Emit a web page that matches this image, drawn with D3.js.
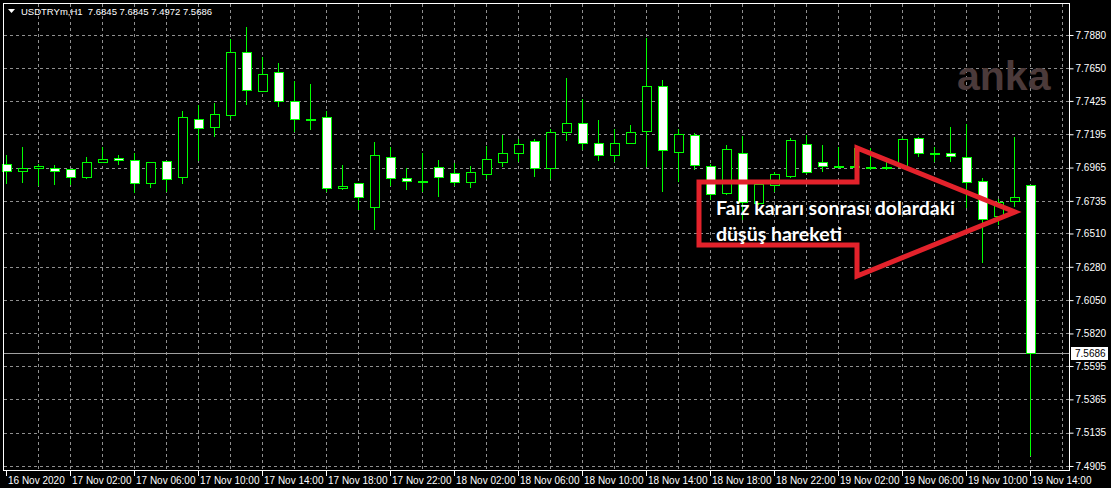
<!DOCTYPE html>
<html>
<head>
<meta charset="utf-8">
<script src="https://cdn.jsdelivr.net/npm/d3@7"></script>
<style>
  html, body { margin: 0; padding: 0; background: #000; }
  svg { display: block; }
  .axis text { font-family: "Liberation Sans", Arial, sans-serif; font-size: 10px; fill: #fff; }
  .axis line { stroke: #fff; }
</style>
</head>
<body>
<svg id="chart" width="1111" height="488"></svg>
<script>
//////////////////
// Data
//////////////////

var symbol = "USDTRYm,H1";
var firstBar = "2020-11-16T22:00:00Z";

// hourly OHLC, 16 Nov 22:00 -> 19 Nov 14:00
var opens = [
  7.6990, 7.6943, 7.6960, 7.6960, 7.6955, 7.6898, 7.7005, 7.7033, 7.7015, 7.6856,
  7.7008, 7.6902, 7.7302, 7.7243, 7.7330, 7.7761, 7.7496, 7.7623, 7.7422, 7.7298,
  7.7316, 7.6822, 7.6861, 7.6691, 7.7040, 7.6891, 7.6874, 7.6967, 7.6925, 7.6867,
  7.6919, 7.7005, 7.7063, 7.7150, 7.6960, 7.7208, 7.7275, 7.7137, 7.7050, 7.7137,
  7.7215, 7.7526, 7.7070, 7.7188, 7.6978, 7.6787, 7.7063, 7.6718, 7.6845, 7.6909,
  7.7126, 7.7005, 7.6978, 7.6978, 7.6971, 7.6971, 7.6971, 7.7167, 7.7068, 7.7068,
  7.7040, 7.6872, 7.6631, 7.6734, 7.6845
];
var highs = [
  7.7052, 7.7109, 7.6990, 7.6983, 7.6955, 7.7040, 7.7109, 7.7052, 7.7063, 7.7001,
  7.7008, 7.7357, 7.7395, 7.7413, 7.7852, 7.7937, 7.7726, 7.7685, 7.7562, 7.7542,
  7.7355, 7.6981, 7.6861, 7.7139, 7.7109, 7.6960, 7.7063, 7.7017, 7.6994, 7.6978,
  7.7114, 7.7190, 7.7162, 7.7162, 7.7231, 7.7581, 7.7436, 7.7293, 7.7231, 7.7259,
  7.7857, 7.7569, 7.7231, 7.7201, 7.6990, 7.7121, 7.7183, 7.6852, 7.6936, 7.7167,
  7.7190, 7.7121, 7.7105, 7.7098, 7.7098, 7.7005, 7.7169, 7.7178, 7.7109, 7.7247,
  7.7266, 7.6891, 7.6748, 7.7174, 7.6845
];
var lows = [
  7.6852, 7.6861, 7.6840, 7.6845, 7.6845, 7.6884, 7.6997, 7.6981, 7.6791, 7.6826,
  7.6798, 7.6849, 7.7010, 7.7178, 7.7300, 7.7397, 7.7496, 7.7385, 7.7212, 7.7224,
  7.6798, 7.6810, 7.6672, 7.6534, 7.6840, 7.6810, 7.6798, 7.6764, 7.6840, 7.6822,
  7.6884, 7.6971, 7.7005, 7.6898, 7.6884, 7.7150, 7.7086, 7.7012, 7.7005, 7.7137,
  7.6967, 7.6798, 7.6867, 7.6948, 7.6741, 7.6776, 7.6603, 7.6707, 7.6798, 7.6893,
  7.6921, 7.6932, 7.6969, 7.6962, 7.6948, 7.6948, 7.6969, 7.7040, 7.7005, 7.7005,
  7.6684, 7.6308, 7.6569, 7.6695, 7.4972
];
var closes = [
  7.6943, 7.6960, 7.6976, 7.6943, 7.6898, 7.7001, 7.7022, 7.7017, 7.6856, 7.7001,
  7.6884, 7.7312, 7.7236, 7.7333, 7.7761, 7.7498, 7.7609, 7.7424, 7.7298, 7.7298,
  7.6822, 7.6838, 7.6760, 7.7050, 7.6891, 7.6874, 7.6874, 7.6898, 7.6867, 7.6932,
  7.7022, 7.7063, 7.7126, 7.6960, 7.7208, 7.7271, 7.7132, 7.7050, 7.7132, 7.7212,
  7.7526, 7.7086, 7.7195, 7.6983, 7.6783, 7.7091, 7.6729, 7.6849, 7.6919, 7.7155,
  7.6936, 7.6978, 7.6978, 7.6978, 7.6971, 7.6971, 7.7162, 7.7063, 7.7068, 7.7045,
  7.6863, 7.6610, 7.6727, 7.6760, 7.5686
];

// price scale labels
var priceTicks = [7.7880, 7.7650, 7.7425, 7.7195, 7.6965, 7.6735, 7.6510,
                  7.6280, 7.6050, 7.5820, 7.5595, 7.5365, 7.5135, 7.4905];

var firstLabel = "16 Nov 2020";
var noteLines = ["Faiz kararı sonrası dolardaki", "düşüş hareketi"];
var watermark = "anka";

//////////////////
// Layout
//////////////////

var svg = d3.select("#chart");
var frame = { left: 3.5, top: 3.5, right: 1069.5, bottom: 470.5 };
var green = "#00ff00";

var start = new Date(firstBar);
var times = opens.map(function (d, i) { return d3.utcHour.offset(start, i); });

var x = d3.scaleTime()
    .domain([times[0], times[times.length - 1]])
    .range([5.5, 1029.5]);

var y = d3.scaleLinear()
    .domain([7.4905, 7.7880])
    .range([466, 35]);

var bars = opens.map(function (o, i) {
    return { t: times[i], o: o, h: highs[i], l: lows[i], c: closes[i] };
});

// grid
var grid = svg.append("g").attr("class", "grid")
    .attr("stroke", "#8f8f8f")
    .attr("stroke-dasharray", "3,3")
    .attr("shape-rendering", "crispEdges");

var vgrid = d3.range(2, 68, 2).map(function (k) { return d3.utcHour.offset(start, k); });

grid.selectAll(".v")
    .data(vgrid)
    .enter().append("line")
        .attr("class", "v")
        .attr("x1", function (d) { return Math.round(x(d)) + 0.5; })
        .attr("x2", function (d) { return Math.round(x(d)) + 0.5; })
        .attr("y1", frame.top)
        .attr("y2", frame.bottom);

grid.selectAll(".h")
    .data(priceTicks)
    .enter().append("line")
        .attr("class", "h")
        .attr("x1", frame.left)
        .attr("x2", frame.right)
        .attr("y1", function (d) { return Math.round(y(d)) + 0.5; })
        .attr("y2", function (d) { return Math.round(y(d)) + 0.5; });

// watermark
svg.append("text")
    .attr("x", 957)
    .attr("y", 90)
    .attr("font-family", "Liberation Sans, Arial, sans-serif")
    .attr("font-weight", "bold")
    .attr("font-size", 41)
    .attr("fill", "#4b3a3a")
    .text(watermark);

// current price line
var last = bars[bars.length - 1];
svg.append("line")
    .attr("x1", frame.left)
    .attr("x2", frame.right)
    .attr("y1", Math.round(y(last.c)) + 0.5)
    .attr("y2", Math.round(y(last.c)) + 0.5)
    .attr("stroke", "#a0a0a0")
    .attr("shape-rendering", "crispEdges");

// candles
var candles = svg.append("g").attr("class", "candles")
    .attr("shape-rendering", "crispEdges");

var candle = candles.selectAll("g")
    .data(bars)
    .enter().append("g")
        .attr("transform", function (d) { return "translate(" + Math.round(x(d.t)) + ",0)"; });

candle.append("line")
    .attr("x1", 0.5).attr("x2", 0.5)
    .attr("y1", function (d) { return y(d.h); })
    .attr("y2", function (d) { return y(d.l); })
    .attr("stroke", green);

candle.each(function (d) {
    var g = d3.select(this);
    var top = Math.round(y(Math.max(d.o, d.c)));
    var bot = Math.round(y(Math.min(d.o, d.c)));
    if (bot - top < 1) {
        g.append("line")
            .attr("x1", -4).attr("x2", 6)
            .attr("y1", top + 0.5).attr("y2", top + 0.5)
            .attr("stroke", green)
            .attr("stroke-width", 2);
    } else {
        g.append("rect")
            .attr("x", -4)
            .attr("y", top + 0.5)
            .attr("width", 9)
            .attr("height", bot - top)
            .attr("fill", d.c < d.o ? "#fff" : "#000")
            .attr("stroke", green);
    }
});

// frame
svg.append("rect")
    .attr("x", frame.left)
    .attr("y", frame.top)
    .attr("width", frame.right - frame.left)
    .attr("height", frame.bottom - frame.top)
    .attr("fill", "none")
    .attr("stroke", "#fff")
    .attr("shape-rendering", "crispEdges");

// price axis
var yAxis = d3.axisRight(y)
    .tickValues(priceTicks)
    .tickSize(4)
    .tickPadding(2)
    .tickFormat(d3.format(".4f"));

svg.append("g")
    .attr("class", "axis")
    .attr("transform", "translate(" + frame.right + ",0)")
    .call(yAxis)
    .call(function (g) { g.select(".domain").remove(); });

// current price box
svg.append("rect")
    .attr("x", 1071)
    .attr("y", Math.round(y(last.c)) - 6)
    .attr("width", 37)
    .attr("height", 13)
    .attr("fill", "#fff");

svg.append("text")
    .attr("x", 1075)
    .attr("y", Math.round(y(last.c)) + 4)
    .attr("font-family", "Liberation Sans, Arial, sans-serif")
    .attr("font-size", 10)
    .attr("fill", "#000")
    .text(d3.format(".4f")(last.c));

// time axis
var timeTicks = d3.range(0, bars.length, 4).map(function (k) { return times[k]; });
var fmt = d3.utcFormat("%d %b %H:%M");

var xAxis = d3.axisBottom(x)
    .tickValues(timeTicks)
    .tickSize(5)
    .tickPadding(1)
    .tickFormat(function (d, i) { return i === 0 ? firstLabel : fmt(d); });

svg.append("g")
    .attr("class", "axis")
    .attr("transform", "translate(0," + frame.bottom + ")")
    .call(xAxis)
    .call(function (g) {
        g.select(".domain").remove();
        g.selectAll(".tick line").attr("shape-rendering", "crispEdges");
        g.selectAll(".tick text").attr("text-anchor", "start").attr("dx", 2);
    });

// header
svg.append("path")
    .attr("d", "M8,9 L15,9 L11.5,13 Z")
    .attr("fill", "#fff");

svg.append("text")
    .attr("x", 21)
    .attr("y", 15)
    .attr("font-family", "Liberation Sans, Arial, sans-serif")
    .attr("font-size", 9.5)
    .attr("fill", "#fff")
    .attr("xml:space", "preserve")
    .style("white-space", "pre")
    .text(symbol + "  " + [last.o, last.h, last.l, last.c].map(d3.format(".4f")).join(" "));

// annotation arrow
var arrow = [[699, 182], [857, 182], [857, 148], [1015, 212], [857, 276], [857, 245], [699, 245]];
svg.append("path")
    .attr("d", d3.line()(arrow) + "Z")
    .attr("fill", "none")
    .attr("stroke", "#e3222b")
    .attr("stroke-width", 5)
    .attr("stroke-linejoin", "miter");

svg.append("g")
    .selectAll("text")
    .data(noteLines)
    .enter().append("text")
        .attr("x", 716)
        .attr("y", function (d, i) { return 215 + i * 26; })
        .attr("font-family", "Lato, sans-serif")
        .attr("font-weight", "bold")
        .attr("font-size", 19.5)
        .attr("fill", "#fff")
        .text(function (d) { return d; });
</script>
</body>
</html>
